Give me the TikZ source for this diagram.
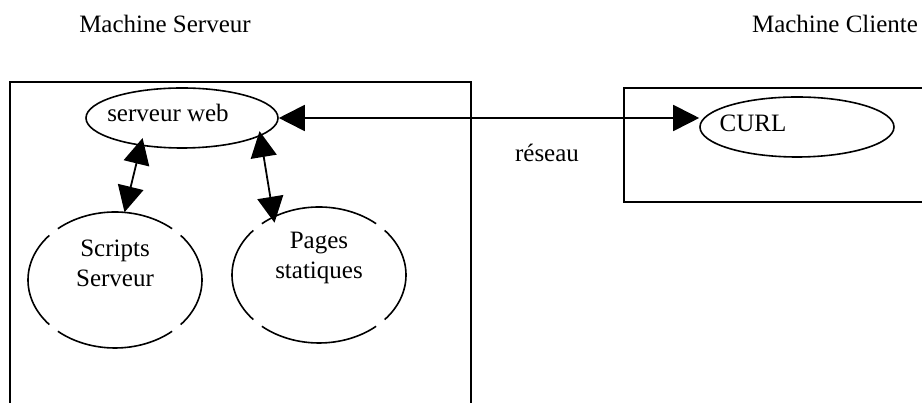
\documentclass[tikz,border=0pt]{standalone}
\usepackage{fontspec}
\setmainfont{Liberation Serif}
\usetikzlibrary{arrows.meta, shapes.geometric, positioning}
\tikzset{
    big_tip/.tip={Triangle[length=26pt, width=26pt]},
    app_node/.style={
        ellipse,
        draw,
        line width=1.6pt,
        minimum width=194pt,
        minimum height=60pt,
        inner sep=0pt
    },
    res_node/.style={
        ellipse,
        minimum width=174pt,
        minimum height=136pt,
        inner sep=0pt
    },
    res_text/.style={
        align=center,
        font=\fontsize{25}{30}\selectfont
    },
    box_line/.style={
        line width=1.6pt
    },
    net_edge/.style={
        big_tip-big_tip,
        line width=1.8pt
    }
}

\begin{document}
\begin{tikzpicture}[x=1pt, y=1pt, font=\fontsize{25}{30}\selectfont]
    \useasboundingbox (0,0) rectangle (922,403);

    % machines
    \node[anchor=base] (srv_title) at (165,370) {Machine Serveur};
    \node[anchor=base] (cli_title) at (835,370) {Machine Cliente};
    \draw[box_line] (10,0) -- (10,321) -- (471,321) -- (471,0);
    \draw[box_line] (922,315) -- (624,315) -- (624,201) -- (922,201);

    % noeuds
    \node[app_node, minimum width=192pt,
          label={[anchor=base, shift={(-14,5)}]center:serveur web}] (web) at (182,285) {};
    \node[res_node, label={[res_text, shift={(0,17)}]center:Scripts\\Serveur}] (scripts) at (115,123) {};
    \node[res_node, label={[res_text, shift={(0,17)}]center:Pages\\statiques}] (pages) at (319,128) {};
    \node[app_node, label={[anchor=base, shift={(-44,4)}]center:CURL}] (curl) at (797,276) {};
    \node[anchor=base] (net_label) at (547,241) {réseau};

    % ellipses avec petites coupures
    \foreach \n in {scripts, pages}
        \foreach \a in {49,139,229,319}
            \draw[line width=1.6pt] (\n.center) ++(\a:87pt and 68pt)
                arc[start angle=\a, delta angle=82, x radius=87pt, y radius=68pt];

    % liaisons
    \draw[net_edge, shorten <=-8pt] (web.214) -- (scripts.82);
    \draw[net_edge, shorten <=-5pt, shorten >=-6pt] (web.-13.5) -- (pages.128.6);
    \draw[net_edge] (web.east) -- (curl.west |- web.east);
\end{tikzpicture}
\end{document}
